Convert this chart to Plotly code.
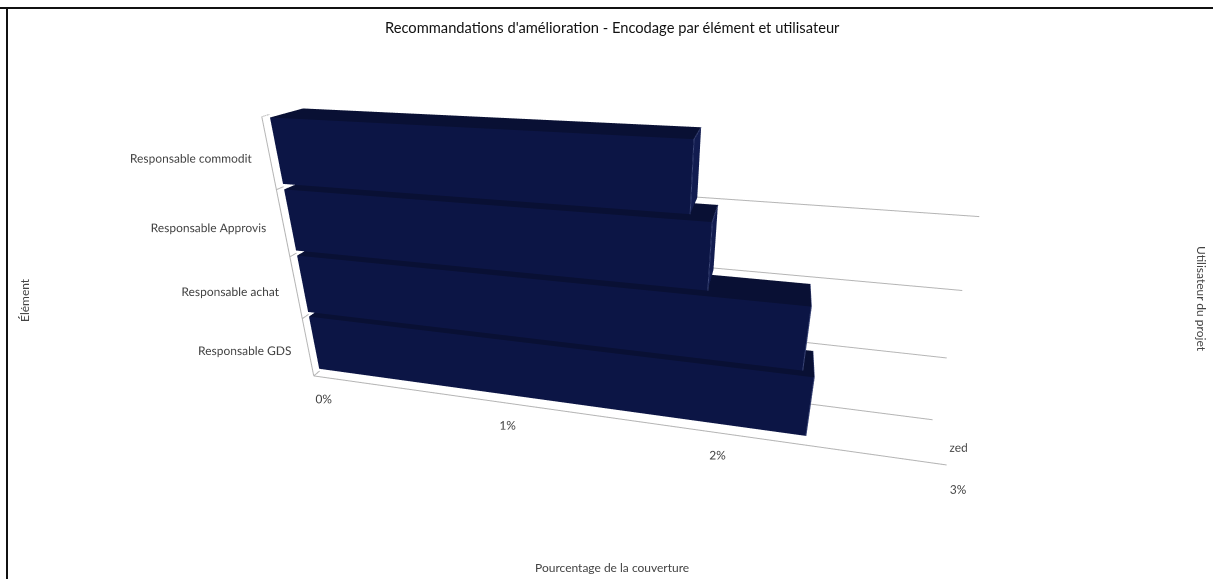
import plotly.graph_objects as go

# Chart data
categories = ["Responsable GDS", "Responsable achat", "Responsable Approvis", "Responsable commodit"]
coverage = [2.43, 2.38, 1.96, 1.87]          # percentage of coverage per element
series_name = "zed"
x_ticks = [0, 1, 2, 3]
x_tick_labels = ["0%", "1%", "2%", "3%"]

FRONT = "#0c1545"
TOP = "#091034"
SIDE = "#121c50"
EDGE = "#3d4878"
GRID = "#b5b5b5"
TEXT = "#444444"

# scene extents (value %, depth, category index) and their relative lengths
X_RANGE = [-0.1, 3.2]
Y_RANGE = [0.0, 1.0]
Z_RANGE = [-0.5, 4.0]
UNIT = (260.3, 87.0, 85.0)     # length of one unit along each axis
SCALE = 1 / 400.0
BAR_DEPTH = (0.15, 0.85)
GAP = 0.04
X_MAX = 3.0


def norm(p):
    """data coordinates -> plotly normalized scene coordinates"""
    out = []
    for v, rng, u in zip(p, (X_RANGE, Y_RANGE, Z_RANGE), UNIT):
        out.append((v - (rng[0] + rng[1]) / 2) * u * SCALE)
    return dict(x=out[0], y=out[1], z=out[2])


def box_mesh(x0, x1, y0, y1, z0, z1):
    xs = [x0, x1, x1, x0, x0, x1, x1, x0]
    ys = [y0, y0, y1, y1, y0, y0, y1, y1]
    zs = [z0, z0, z0, z0, z1, z1, z1, z1]
    faces = [
        ((0, 1, 5), FRONT), ((0, 5, 4), FRONT),
        ((3, 2, 6), FRONT), ((3, 6, 7), FRONT),
        ((4, 5, 6), TOP), ((4, 6, 7), TOP),
        ((0, 1, 2), TOP), ((0, 2, 3), TOP),
        ((1, 2, 6), SIDE), ((1, 6, 5), SIDE),
        ((0, 3, 7), SIDE), ((0, 7, 4), SIDE),
    ]
    return xs, ys, zs, faces


def line3d(xs, ys, zs, color=GRID, width=2):
    return go.Scatter3d(x=xs, y=ys, z=zs, mode="lines", line=dict(color=color, width=width),
                        hoverinfo="skip", showlegend=False)


n = len(categories)
fig = go.Figure()

# category separators on the back wall
for z in range(n):
    fig.add_trace(line3d([0, X_MAX], [1, 1], [z, z]))
# value axis along the front of the floor
fig.add_trace(line3d([0, X_MAX], [0, 0], [0, 0]))
# category axis with depth ticks
fig.add_trace(line3d([0, 0], [0, 0], [0, n]))
for z in range(n + 1):
    fig.add_trace(line3d([0, 0], [0, BAR_DEPTH[0]], [z, z]))

# bars
X, Y, Z, I, J, K, C = [], [], [], [], [], [], []
for idx, val in enumerate(coverage):
    xs, ys, zs, faces = box_mesh(0, val, BAR_DEPTH[0], BAR_DEPTH[1], idx + GAP, idx + 1 - GAP)
    base = len(X)
    X += xs; Y += ys; Z += zs
    for (a, b, c), col in faces:
        I.append(base + a); J.append(base + b); K.append(base + c); C.append(col)
fig.add_trace(go.Mesh3d(x=X, y=Y, z=Z, i=I, j=J, k=K, facecolor=C, flatshading=True,
                        lighting=dict(ambient=1, diffuse=0, specular=0, fresnel=0, roughness=1),
                        hoverinfo="skip", showscale=False, name=series_name))
# light edge on the end of each bar
for idx, val in enumerate(coverage):
    fig.add_trace(line3d([val, val, val], [BAR_DEPTH[0], BAR_DEPTH[0], BAR_DEPTH[1]],
                         [idx + GAP, idx + 1 - GAP, idx + 1 - GAP], color=EDGE, width=2))

# category labels
fig.add_trace(go.Scatter3d(x=[-0.035] * n, y=[0] * n, z=[i + 0.42 for i in range(n)],
                           mode="text", text=categories,
                           textposition="middle left",
                           textfont=dict(family="Lato", size=12, color=TEXT),
                           hoverinfo="skip", showlegend=False))
# value tick labels
fig.add_trace(go.Scatter3d(x=[v + 0.05 for v in x_ticks], y=[0] * len(x_ticks),
                           z=[-0.1] * len(x_ticks),
                           mode="text", text=x_tick_labels, textposition="bottom center",
                           textfont=dict(family="Lato", size=12, color=TEXT),
                           hoverinfo="skip", showlegend=False))
# series label on the depth axis
fig.add_trace(go.Scatter3d(x=[X_MAX], y=[0.5], z=[-0.1], mode="text", text=[series_name],
                           textposition="middle right",
                           textfont=dict(family="Lato", size=12, color=TEXT),
                           hoverinfo="skip", showlegend=False))

hidden = dict(visible=False, showgrid=False, zeroline=False, showbackground=False,
              showticklabels=False, title="", showspikes=False)

# viewpoint: in front of the bars, above them, near the right end of the value axis
look_at = (1.505, 0.399, 1.795)
eye_far = (2.22, -8.39, 5.98)
eye_pos = tuple(c + (e - c) * 0.94 for e, c in zip(eye_far, look_at))

fig.update_layout(
    width=1213, height=579,
    paper_bgcolor="white", plot_bgcolor="white",
    margin=dict(l=0, r=0, t=0, b=0),
    showlegend=False,
    scene=dict(
        domain=dict(x=[0, 1], y=[0, 1]),
        xaxis=dict(hidden, range=X_RANGE),
        yaxis=dict(hidden, range=Y_RANGE),
        zaxis=dict(hidden, range=Z_RANGE),
        aspectmode="manual",
        aspectratio=dict(x=(X_RANGE[1] - X_RANGE[0]) * UNIT[0] * SCALE,
                         y=(Y_RANGE[1] - Y_RANGE[0]) * UNIT[1] * SCALE,
                         z=(Z_RANGE[1] - Z_RANGE[0]) * UNIT[2] * SCALE),
        camera=dict(eye=norm(eye_pos), center=norm(look_at),
                    up=dict(x=0, y=0, z=1), projection=dict(type="perspective")),
    ),
    annotations=[
        dict(text="Recommandations d'amélioration - Encodage par élément et utilisateur",
             x=612 / 1213, y=1 - 27 / 579, xref="paper", yref="paper", showarrow=False,
             xanchor="center", yanchor="middle",
             font=dict(family="Lato", size=14.7, color="#111111")),
        dict(text="Élément", x=24 / 1213, y=1 - 300 / 579, xref="paper", yref="paper",
             xanchor="center", yanchor="middle",
             showarrow=False, textangle=-90, font=dict(family="Lato", size=12, color=TEXT)),
        dict(text="Pourcentage de la couverture", x=612 / 1213, y=1 - 567 / 579,
             xref="paper", yref="paper", showarrow=False, xanchor="center", yanchor="middle",
             font=dict(family="Lato", size=12, color=TEXT)),
        dict(text="Utilisateur du projet", x=1202 / 1213, y=1 - 299 / 579, xref="paper",
             yref="paper", showarrow=False, textangle=90, xanchor="center", yanchor="middle",
             font=dict(family="Lato", size=12, color=TEXT)),
    ],
    shapes=[
        dict(type="line", xref="paper", yref="paper", x0=0, x1=1, y0=1 - 8 / 579, y1=1 - 8 / 579,
             line=dict(color="#111111", width=2)),
        dict(type="line", xref="paper", yref="paper", x0=7 / 1213, x1=7 / 1213, y0=0,
             y1=1 - 8 / 579, line=dict(color="#111111", width=2)),
    ],
)

fig.write_html("out.html")
